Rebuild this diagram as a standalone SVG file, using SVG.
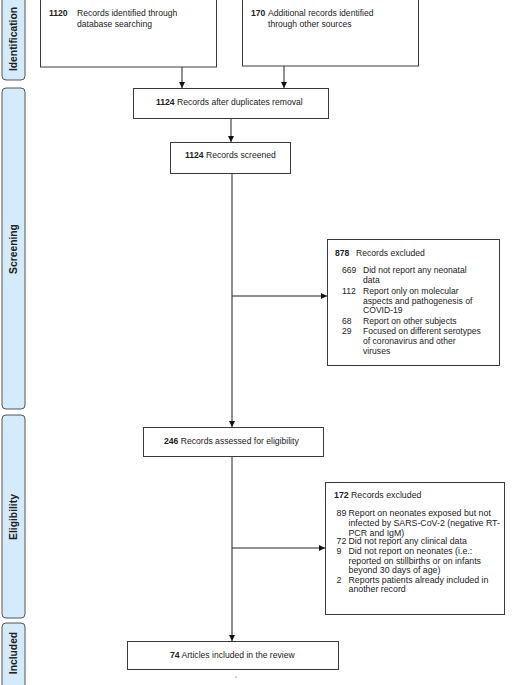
<svg xmlns="http://www.w3.org/2000/svg" width="524" height="685" viewBox="0 0 524 685">
<style>
.box{fill:#fff;stroke:#3a3a3a;stroke-width:1}
.bar{fill:#d3ebfb;stroke:#555;stroke-width:1}
.t{font-family:"Liberation Sans",Arial,sans-serif;font-size:8.6px;fill:#222}
.t2{font-size:8.8px}
.b{font-weight:bold}
.lbl{font-family:"Liberation Sans",Arial,sans-serif;font-size:10.3px;font-weight:bold;fill:#222;text-anchor:middle}
.ln{fill:none;stroke:#222;stroke-width:1}
</style>
<defs>
<marker id="ah" viewBox="0 0 6 6" refX="6" refY="3" markerWidth="6" markerHeight="6" markerUnits="userSpaceOnUse" orient="auto">
<path d="M0,0 L6,3 L0,6 z" fill="#111"/>
</marker>
</defs>
<rect width="524" height="685" fill="#fff"/>
<g id="phases">
<g id="phase-identification"><rect class="bar" x="2" y="-4" width="23" height="84" rx="4"/><text class="lbl" transform="translate(17,39) rotate(-90)">Identification</text></g>
<g id="phase-screening"><rect class="bar" x="2" y="88" width="23" height="321" rx="4"/><text class="lbl" transform="translate(17,249) rotate(-90)">Screening</text></g>
<g id="phase-eligibility"><rect class="bar" x="2" y="415" width="23" height="203" rx="4"/><text class="lbl" transform="translate(17,517) rotate(-90)">Eligibility</text></g>
<g id="phase-included"><rect class="bar" x="2" y="623" width="23" height="66" rx="4"/><text class="lbl" transform="translate(17,653) rotate(-90)">Included</text></g>
</g>
<g id="connectors">
<line class="ln" x1="182" y1="67" x2="182" y2="88" marker-end="url(#ah)"/>
<line class="ln" x1="284" y1="66" x2="284" y2="88" marker-end="url(#ah)"/>
<line class="ln" x1="231" y1="118" x2="231" y2="142" marker-end="url(#ah)"/>
<line class="ln" x1="232" y1="173" x2="232" y2="427" marker-end="url(#ah)"/>
<line class="ln" x1="232" y1="296" x2="327" y2="296" marker-end="url(#ah)"/>
<line class="ln" x1="232" y1="456" x2="232" y2="641" marker-end="url(#ah)"/>
<line class="ln" x1="232" y1="548" x2="325" y2="548" marker-end="url(#ah)"/>
</g>
<g id="n1120"><rect class="box" x="40.5" y="-1" width="176" height="68"/>
<text class="t"><tspan class="b" x="49" y="16">1120</tspan><tspan x="77" y="16">Records identified through</tspan><tspan x="77" y="26.5">database searching</tspan></text></g>
<g id="n170"><rect class="box" x="242.5" y="-1" width="176" height="67"/>
<text class="t"><tspan class="b" x="251" y="16">170</tspan><tspan x="268" y="16">Additional records identified</tspan><tspan x="268" y="26.5">through other sources</tspan></text></g>
<g id="n1124dup"><rect class="box" x="133.5" y="88.5" width="195" height="30"/>
<text class="t" x="156" y="105"><tspan class="b">1124</tspan> Records after duplicates removal</text></g>
<g id="n1124scr"><rect class="box" x="170.5" y="142.5" width="120" height="31"/>
<text class="t" x="185" y="158"><tspan class="b">1124</tspan> Records screened</text></g>
<g id="n878"><rect class="box" x="327.5" y="239.5" width="172" height="126"/>
<text class="t"><tspan class="b" x="335" y="256">878</tspan><tspan x="356" y="256">Records excluded</tspan>
<tspan x="342" y="273">669</tspan><tspan x="363" y="273">Did not report any neonatal</tspan><tspan x="363" y="282.5">data</tspan>
<tspan x="342" y="294">112</tspan><tspan x="363" y="294">Report only on molecular</tspan><tspan x="363" y="303.5">aspects and pathogenesis of</tspan><tspan x="363" y="313">COVID-19</tspan>
<tspan x="342" y="324">68</tspan><tspan x="363" y="324">Report on other subjects</tspan>
<tspan x="342" y="334">29</tspan><tspan x="363" y="334">Focused on different serotypes</tspan><tspan x="363" y="344">of coronavirus and other</tspan><tspan x="363" y="354">viruses</tspan></text></g>
<g id="n246"><rect class="box" x="143.5" y="427.5" width="180" height="29"/>
<text class="t" x="164" y="444"><tspan class="b">246</tspan> Records assessed for eligibility</text></g>
<g id="n172"><rect class="box" x="325.5" y="482.5" width="179" height="132"/>
<text class="t t2"><tspan class="b" x="334" y="498">172</tspan><tspan x="351" y="498">Records excluded</tspan>
<tspan x="336.5" y="515.5">89</tspan><tspan x="348.5" y="515.5">Report on neonates exposed but not</tspan><tspan x="348.5" y="525.5">infected by SARS-CoV-2 (negative RT-</tspan><tspan x="348.5" y="535.5">PCR and IgM)</tspan>
<tspan x="336.5" y="544">72</tspan><tspan x="348.5" y="544">Did not report any clinical data</tspan>
<tspan x="336.5" y="554">9</tspan><tspan x="348.5" y="554">Did not report on neonates (i.e.:</tspan><tspan x="348.5" y="563.5">reported on stillbirths or on infants</tspan><tspan x="348.5" y="573">beyond 30 days of age)</tspan>
<tspan x="336.5" y="582.5">2</tspan><tspan x="348.5" y="582.5">Reports patients already included in</tspan><tspan x="348.5" y="592">another record</tspan></text></g>
<g id="n74"><rect class="box" x="127.5" y="641.5" width="211" height="28"/>
<text class="t" x="170" y="658"><tspan class="b">74</tspan> Articles included in the review</text></g>
<circle cx="236" cy="677" r="0.6" fill="#333"/>
</svg>
